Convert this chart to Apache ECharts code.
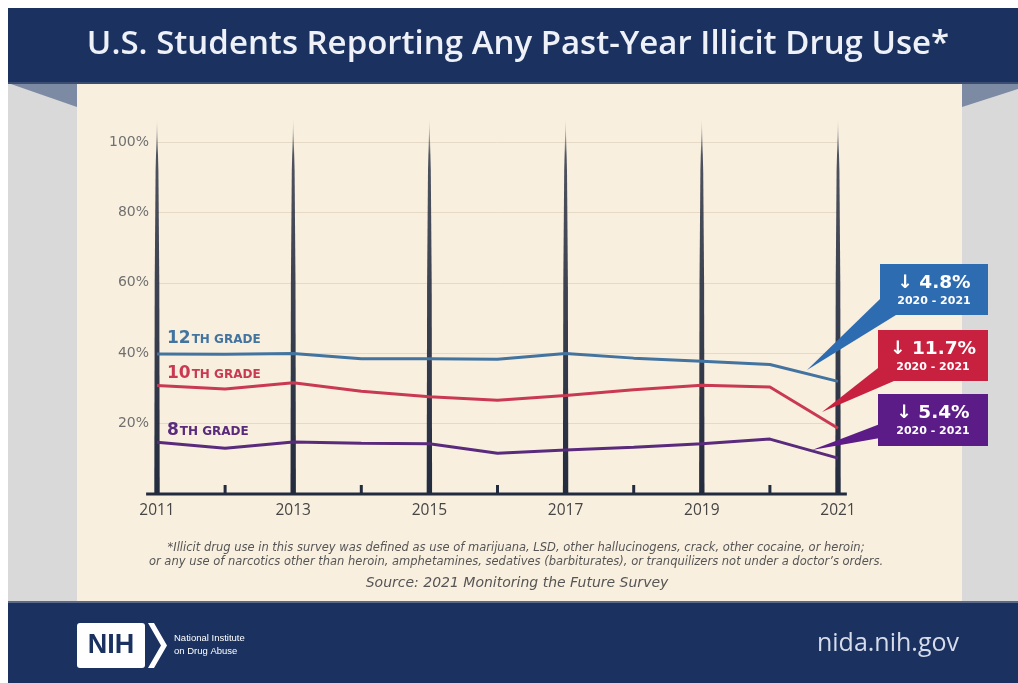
<!DOCTYPE html>
<html>
<head>
<meta charset="utf-8">
<script src="https://cdn.jsdelivr.net/npm/echarts@6/dist/echarts.min.js"></script>
<style>
html,body{margin:0;padding:0;background:#fff;}
#c{width:1018px;height:683px;}
</style>
</head>
<body>
<div id="c"></div>
<script>
// ---- data ----
const years = [2011, 2012, 2013, 2014, 2015, 2016, 2017, 2018, 2019, 2020, 2021];
const grade12 = [39.8, 39.7, 39.9, 38.4, 38.4, 38.3, 39.9, 38.6, 37.7, 36.8, 32.0];
const grade10 = [30.8, 29.8, 31.6, 29.2, 27.6, 26.6, 28.0, 29.6, 30.9, 30.4, 18.7];
const grade8  = [14.7, 13.0, 14.8, 14.4, 14.3, 11.6, 12.5, 13.3, 14.3, 15.6, 10.2];
const seriesNames = ['12th grade', '10th grade', '8th grade'];
const oddYears = [2011, 2013, 2015, 2017, 2019, 2021];
const evenYears = [2012, 2014, 2016, 2018, 2020];
const changes = ['4.8%', '11.7%', '5.4%'];
const changePeriod = '2020 - 2021';

const NAVY = '#1b3260';
const BEIGE = '#f8efdf';
const SIDE = '#d9d9d9';
const C12 = '#43739f', C10 = '#c93a52', C8 = '#5a2b7c';
const BOX12 = '#2e6cb1', BOX10 = '#c8213f', BOX8 = '#5c1c88';
const SPIKE = '#232b3e';
const WIDE = '"DejaVu Sans"';

const chart = echarts.init(document.getElementById('c'), null, {renderer: 'canvas'});

function lineSeries(name, data, color) {
  return {
    type: 'line', name: name, data: years.map((y, i) => [y, data[i]]),
    symbol: 'none', z: 5,
    lineStyle: {color: color, width: 3}
  };
}

function gradeLabel(num, y, color) {
  return {type: 'text', x: 167, y: y, z: 10,
    style: {text: '{a|' + num + '}{b|TH GRADE}', verticalAlign: 'middle', rich: {
      a: {fontSize: 17, fontWeight: 'bold', fill: color, fontFamily: WIDE, lineHeight: 20, verticalAlign: 'bottom'},
      b: {fontSize: 12, fontWeight: 'bold', fill: color, fontFamily: WIDE, lineHeight: 16, verticalAlign: 'bottom', padding: [0, 0, 1, 1]}}}};
}

function calloutText(x, y, value) {
  return {type: 'text', x: x, y: y, z: 10, style: {
    text: '{a|\u2193 ' + value + '}\n{b|' + changePeriod + '}', align: 'center', verticalAlign: 'middle',
    rich: {a: {fontSize: 18.5, fontWeight: 'bold', fill: '#fff', fontFamily: WIDE, lineHeight: 22},
           b: {fontSize: 11, fontWeight: 'bold', fill: '#fff', fontFamily: WIDE, lineHeight: 14}}}};
}

const option = {
  backgroundColor: '#ffffff',
  animation: false,
  grid: {left: 157, right: 180, top: 142, bottom: 189, containLabel: false},
  xAxis: {
    type: 'value', min: 2011, max: 2021, interval: 2,
    axisLine: {show: false}, axisTick: {show: false}, splitLine: {show: false},
    axisLabel: {color: '#454545', fontSize: 15.5, margin: 9, fontFamily: 'Open Sans',
      formatter: v => String(v)}
  },
  yAxis: {
    type: 'value', min: 0, max: 100, interval: 20,
    axisLine: {show: false}, axisTick: {show: false},
    splitLine: {lineStyle: {color: '#e6dac6', width: 1}},
    axisLabel: {color: '#707070', fontSize: 14, margin: 8, fontFamily: WIDE,
      formatter: v => (v === 0 ? '' : v + '%')}
  },
  series: [
    {
      type: 'custom', z: 3, clip: false,
      data: oddYears.map(y => [y]),
      renderItem: function (params, api) {
        const x = api.value(0);
        const b = api.coord([x, 0]);
        const m1 = api.coord([x, 60]);
        const m2 = api.coord([x, 92]);
        const t = api.coord([x, 107]);
        return {
          type: 'polygon',
          shape: {points: [[b[0] - 2.7, b[1]], [b[0] + 2.7, b[1]], [m1[0] + 2.3, m1[1]],
            [m2[0] + 1.4, m2[1]], [t[0], t[1]], [m2[0] - 1.4, m2[1]], [m1[0] - 2.3, m1[1]]]},
          style: {fill: new echarts.graphic.LinearGradient(0, 0, 0, 1, [
            {offset: 0, color: 'rgba(35,43,62,0)'},
            {offset: 0.1, color: 'rgba(35,43,62,0.8)'},
            {offset: 1, color: SPIKE}
          ])}
        };
      }
    },
    {
      type: 'custom', z: 3, clip: false,
      data: evenYears.map(y => [y]),
      renderItem: function (params, api) {
        const b = api.coord([api.value(0), 0]);
        return {type: 'line', shape: {x1: b[0], y1: b[1], x2: b[0], y2: b[1] - 9},
          style: {stroke: SPIKE, lineWidth: 3}};
      }
    },
    {
      type: 'custom', z: 4, clip: false,
      data: [[2010.84, 2021.13]],
      renderItem: function (params, api) {
        const a = api.coord([api.value(0), 0]);
        const b = api.coord([api.value(1), 0]);
        return {type: 'line', shape: {x1: a[0], y1: a[1], x2: b[0], y2: b[1]},
          style: {stroke: SPIKE, lineWidth: 3}};
      }
    },
    lineSeries(seriesNames[0], grade12, C12),
    lineSeries(seriesNames[1], grade10, C10),
    lineSeries(seriesNames[2], grade8, C8)
  ],
  graphic: [
    // backgrounds
    {type: 'rect', z: -100, shape: {x: 8, y: 83, width: 1010, height: 520}, style: {fill: SIDE}},
    {type: 'rect', z: -99, shape: {x: 77, y: 83, width: 885, height: 520}, style: {fill: BEIGE}},
    {type: 'polygon', z: -98, shape: {points: [[8, 83], [77, 83], [77, 107]]}, style: {fill: '#7d8aa3'}},
    {type: 'polygon', z: -98, shape: {points: [[962, 83], [1018, 83], [1018, 89], [962, 107]]}, style: {fill: '#7d8aa3'}},
    {type: 'rect', z: -97, shape: {x: 8, y: 8, width: 1010, height: 76}, style: {fill: NAVY}},
    {type: 'rect', z: -97, shape: {x: 8, y: 602, width: 1010, height: 81}, style: {fill: NAVY}},
    {type: 'rect', z: -96, shape: {x: 8, y: 82, width: 1010, height: 2}, style: {fill: '#3b4d72'}},
    {type: 'rect', z: -96, shape: {x: 8, y: 601, width: 1010, height: 2}, style: {fill: '#5a6a88'}},
    // title
    {type: 'text', x: 518, y: 45, z: 10,
      style: {text: 'U.S. Students Reporting Any Past-Year Illicit Drug Use*', fill: '#eef1f7',
        align: 'center', verticalAlign: 'middle', font: '600 33px "Open Sans"'}},
    // grade labels
    gradeLabel('12', 337, C12),
    gradeLabel('10', 372, C10),
    gradeLabel('8', 429, C8),
    // callout pointers
    {type: 'polygon', z: 8, shape: {points: [[807, 370], [880, 299], [896, 315]]}, style: {fill: BOX12}},
    {type: 'polygon', z: 8, shape: {points: [[822, 412], [878, 368], [894, 381]]}, style: {fill: BOX10}},
    {type: 'polygon', z: 8, shape: {points: [[812, 450], [880, 424], [880, 438]]}, style: {fill: BOX8}},
    // callout boxes
    {type: 'rect', z: 9, shape: {x: 880, y: 264, width: 108, height: 51}, style: {fill: BOX12}},
    {type: 'rect', z: 9, shape: {x: 878, y: 330, width: 110, height: 51}, style: {fill: BOX10}},
    {type: 'rect', z: 9, shape: {x: 878, y: 394, width: 110, height: 52}, style: {fill: BOX8}},
    calloutText(934, 290, changes[0]),
    calloutText(933, 356, changes[1]),
    calloutText(933, 420, changes[2]),
    // footnote & source
    {type: 'text', x: 516, y: 555, z: 10, style: {
      text: '*Illicit drug use in this survey was defined as use of marijuana, LSD, other hallucinogens, crack, other cocaine, or heroin;\nor any use of narcotics other than heroin, amphetamines, sedatives (barbiturates), or tranquilizers not under a doctor\u2019s orders.',
      align: 'center', verticalAlign: 'middle', fill: '#555', font: 'italic 11.5px "DejaVu Sans"', lineHeight: 13.5}},
    {type: 'text', x: 517, y: 583, z: 10, style: {text: 'Source: 2021 Monitoring the Future Survey',
      align: 'center', verticalAlign: 'middle', fill: '#555', font: 'italic 14px "DejaVu Sans"'}},
    // footer logo
    {type: 'rect', z: 10, shape: {x: 77, y: 623, width: 68, height: 45, r: 3}, style: {fill: '#fff'}},
    {type: 'polygon', z: 10, shape: {points: [[148, 623], [154, 623], [167, 645.5], [154, 668], [148, 668], [161, 645.5]]}, style: {fill: '#fff'}},
    {type: 'text', x: 111, y: 646, z: 11, style: {text: 'NIH', align: 'center', verticalAlign: 'middle', fill: NAVY, font: 'bold 27px "Liberation Sans"'}},
    {type: 'text', x: 174, y: 645, z: 11, style: {text: 'National Institute\non Drug Abuse', verticalAlign: 'middle', fill: '#fff', font: '9.5px "Liberation Sans"', lineHeight: 13}},
    {type: 'text', x: 959, y: 644, z: 11, style: {text: 'nida.nih.gov', align: 'right', verticalAlign: 'middle', fill: '#d6dcea', font: '25px "Open Sans"'}}
  ]
};
chart.setOption(option);
</script>
</body>
</html>
